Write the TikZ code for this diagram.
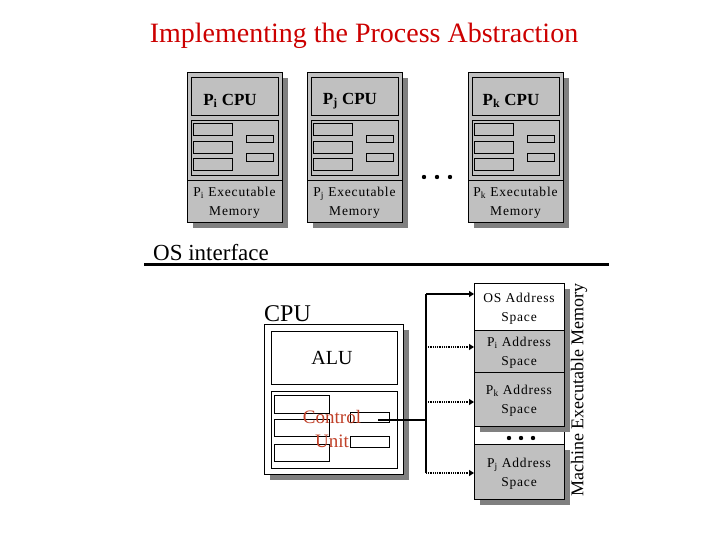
\documentclass[tikz,border=0pt]{standalone}
\usepackage{fontspec}
\setmainfont{Liberation Serif}
\newfontfamily\spc[LetterSpace=6]{Liberation Serif}
\usetikzlibrary{shadows,arrows.meta}
\definecolor{boxgray}{RGB}{192,192,192}
\definecolor{shadowgray}{RGB}{128,128,128}
\definecolor{titlered}{RGB}{204,0,0}
\definecolor{cured}{RGB}{192,64,40}
\tikzset{
  gbox/.style={draw, fill=boxgray, line width=0.7pt, anchor=north west, inner sep=0pt, outer sep=0pt},
  wbox/.style={gbox, fill=white},
  shad/.style={drop shadow={shadow xshift=6pt, shadow yshift=-6pt, fill=shadowgray, opacity=1}},
  memtext/.style={font=\spc\fontsize{13.5}{19}\selectfont, align=center, inner sep=0pt},
  bus/.style={line width=2pt},
  dotl/.style={line width=1.6pt, dash pattern=on 1pt off 0.8pt},
  tip/.style={-{Triangle[length=5pt,width=6pt]}}
}
\newcommand{\rbox}[6]{\node[#6, minimum width={((#4)-(#2))*1pt}, minimum height={((#5)-(#3))*1pt}] (#1) at (#2,#3) {};}
\newcommand{\procbox}[3]{%
  \rbox{#1}{#2}{72}{#2+95}{222}{gbox,shad}
  \rbox{#1cpu}{#2+4}{77}{#2+91}{115}{gbox}
  \rbox{#1reg}{#2+4}{120}{#2+91}{175}{gbox}
  \draw[line width=0.7pt] (#2,180) -- (#2+95,180);
  \rbox{#1ra}{#2+6}{123}{#2+45}{135}{gbox}
  \rbox{#1rb}{#2+6}{141}{#2+45}{153}{gbox}
  \rbox{#1rc}{#2+6}{158}{#2+45}{170}{gbox}
  \rbox{#1rd}{#2+59}{135}{#2+86}{142}{gbox}
  \rbox{#1re}{#2+59}{153}{#2+86}{161}{gbox}
  \node[font=\bfseries\fontsize{17}{20}\selectfont, inner sep=0pt] (#1lbl) at (#2+43,101) {P\textsubscript{#3} CPU};
  \node[memtext] (#1mem) at (#2+47.5,203) {P\textsubscript{#3} Executable\\Memory};
}
\begin{document}
\begin{tikzpicture}[x=1pt,y=-1pt]
\fill[white] (0,0) rectangle (720,540);
\useasboundingbox (0,0) rectangle (720,540);

\node[anchor=base, text=titlered, font=\fontsize{28}{32}\selectfont, inner sep=0pt] (title) at (364,43) {Implementing the Process Abstraction};

\procbox{pi}{187}{i}
\procbox{pj}{307}{j}
\procbox{pk}{468}{k}

\fill (424,177) circle (2.2) (437,177) circle (2.2) (450,177) circle (2.2);

\node[anchor=base west, inner sep=0pt, font=\fontsize{23}{26}\selectfont] (osi) at (153,260) {OS interface};
\draw[line width=3pt] (144,264.5) -- (609,264.5);

\node[anchor=base west, inner sep=0pt, font=\fontsize{24}{28}\selectfont] (cpulbl) at (264,321) {CPU};
\rbox{cpu}{264}{324}{403}{474}{wbox,shad}
\rbox{alu}{271}{331}{397}{384}{wbox}
\rbox{cu}{271}{391}{397}{468}{wbox}
\rbox{cua}{274}{395}{329}{413}{wbox}
\rbox{cub}{274}{419}{329}{436}{wbox}
\rbox{cuc}{274}{444}{329}{461}{wbox}
\rbox{cud}{350}{412}{389}{422}{wbox}
\rbox{cue}{350}{436}{389}{447}{wbox}
\node[anchor=base, inner sep=0pt, font=\fontsize{20}{24}\selectfont] (alulbl) at (332,364) {ALU};
\node[anchor=base, inner sep=0pt, text=cured, font=\fontsize{19}{24}\selectfont] (cul1) at (332,423) {Control};
\node[anchor=base, inner sep=0pt, text=cured, font=\fontsize{19}{24}\selectfont] (cul2) at (332,447) {Unit};

% memory column
\rbox{dotreg}{474}{426}{564}{444}{wbox}
\rbox{os}{474}{283}{564}{330}{wbox,shad}
\rbox{pim}{474}{330}{564}{372}{gbox,shad}
\rbox{pkm}{474}{372}{564}{426}{gbox,shad}
\rbox{pjm}{474}{444}{564}{499}{gbox,shad}
\node[memtext] (ost) at ([yshift=-2pt]os.center) {OS Address\\Space};
\node[memtext] (pit) at ([yshift=-2pt]pim.center) {P\textsubscript{i} Address\\Space};
\node[memtext] (pkt) at ([yshift=-2pt]pkm.center) {P\textsubscript{k} Address\\Space};
\node[memtext] (pjt) at ([yshift=-2pt]pjm.center) {P\textsubscript{j} Address\\Space};
\fill (509,438) circle (2.2) (521,438) circle (2.2) (533,438) circle (2.2);
\node[rotate=90, inner sep=0pt, font=\fontsize{18}{20}\selectfont] (mem) at (579,390) {Machine Executable Memory};

% bus
\coordinate (b0) at (426,294);
\coordinate (b1) at (426,347);
\coordinate (b2) at (426,402);
\coordinate (b3) at (426,473);
\coordinate (bcu) at (426,420);
\coordinate (cus) at (378,420);
\draw[bus] (cus) -- (bcu);
\draw[bus] (b3) -- (b0);
\draw[bus,tip] (b0) -- (b0 -| os.west);
\draw[dotl,tip] (b1) -- (b1 -| pim.west);
\draw[dotl,tip] (b2) -- (b2 -| pkm.west);
\draw[dotl,tip] (b3) -- (b3 -| pjm.west);
\end{tikzpicture}
\end{document}
